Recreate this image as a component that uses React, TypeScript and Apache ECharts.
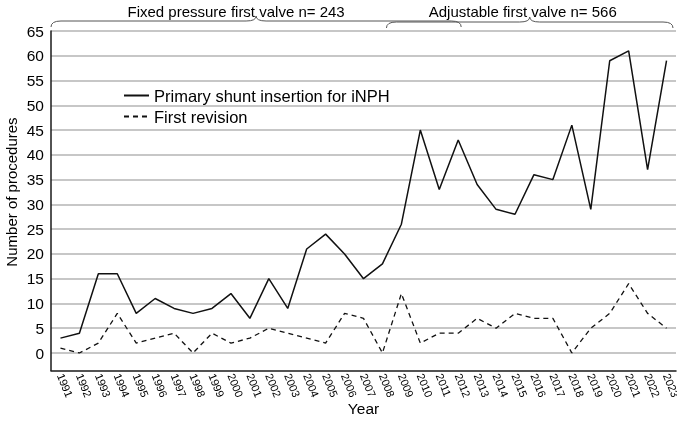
import React, { useEffect, useRef } from 'react';
import * as echarts from 'echarts';

const years = [
  '1991', '1992', '1993', '1994', '1995', '1996', '1997', '1998', '1999', '2000',
  '2001', '2002', '2003', '2004', '2005', '2006', '2007', '2008', '2009', '2010',
  '2011', '2012', '2013', '2014', '2015', '2016', '2017', '2018', '2019', '2020',
  '2021', '2022', '2023',
];

const primaryShunts = [
  3, 4, 16, 16, 8, 11, 9, 8, 9, 12,
  7, 15, 9, 21, 24, 20, 15, 18, 26, 45,
  33, 43, 34, 29, 28, 36, 35, 46, 29, 59,
  61, 37, 59,
];

const firstRevisions = [
  1, 0, 2, 8, 2, 3, 4, 0, 4, 2,
  3, 5, 4, 3, 2, 8, 7, 0, 12, 2,
  4, 4, 7, 5, 8, 7, 7, 0, 5, 8,
  14, 8, 5,
];

const seriesNames = ['Primary shunt insertion for iNPH', 'First revision'];

// Valve eras shown as braces above the plot
const periodLabels = ['Fixed pressure first valve n= 243', 'Adjustable first valve n= 566'];
const periodStart = ['1991', '2008'];
const periodEnd = ['2012', '2023'];

const FONT = '"Liberation Sans", Arial, Helvetica, sans-serif';

export default function App() {
  const ref = useRef<HTMLDivElement>(null);

  useEffect(() => {
    const chart = echarts.init(ref.current!, null, { renderer: 'svg' });
    chart.setOption({
      animation: false,
      textStyle: { fontFamily: FONT },
      grid: [
        { left: 51, right: 1, top: 31, bottom: 72, outerBoundsMode: 'none', containLabel: false },
        { left: 51, right: 1, top: 31, bottom: 54.5, outerBoundsMode: 'none', containLabel: false },
      ],
      legend: {
        orient: 'vertical',
        left: 118,
        top: 82,
        itemWidth: 25,
        itemHeight: 14,
        itemGap: 4,
        data: seriesNames,
        itemStyle: { opacity: 0 },
        textStyle: { fontSize: 16.5, color: '#000', fontFamily: FONT },
      },
      xAxis: [
        {
          type: 'category',
          gridIndex: 0,
          data: years,
          boundaryGap: true,
          axisLine: { show: false },
          axisTick: { show: false },
          axisLabel: {
            rotate: -68,
            margin: 21,
            fontSize: 11,
            color: '#000',
            interval: 0,
            padding: [7, 0, 0, 0],
          },
          name: 'Year',
          nameLocation: 'middle',
          nameGap: 47,
          nameMoveOverlap: false,
          nameTextStyle: { fontSize: 15.5, color: '#000' },
        },
        {
          type: 'category',
          gridIndex: 1,
          data: years,
          axisLine: { lineStyle: { color: '#1a1a1a', width: 1.5 } },
          axisTick: { show: false },
          axisLabel: { show: false },
        },
      ],
      yAxis: [
        {
          type: 'value',
          gridIndex: 0,
          min: 0,
          max: 65,
          interval: 5,
          axisLine: { show: false },
          axisTick: { show: false },
          axisLabel: { fontSize: 15.5, color: '#000', margin: 7 },
          splitLine: { lineStyle: { color: '#b4b4b4', width: 1.5 } },
          name: 'Number of procedures',
          nameLocation: 'middle',
          nameGap: 32,
          nameMoveOverlap: false,
          nameTextStyle: { fontSize: 15, color: '#000' },
        },
        {
          type: 'value',
          gridIndex: 1,
          min: 0,
          max: 1,
          axisLine: { show: true, lineStyle: { color: '#1a1a1a', width: 1.5 } },
          axisTick: { show: false },
          axisLabel: { show: false },
          splitLine: { show: false },
        },
      ],
      series: [
        {
          name: seriesNames[0],
          type: 'line',
          xAxisIndex: 0,
          yAxisIndex: 0,
          data: primaryShunts,
          symbol: 'none',
          lineStyle: { color: '#111', width: 1.5 },
          itemStyle: { color: '#111' },
        },
        {
          name: seriesNames[1],
          type: 'line',
          xAxisIndex: 0,
          yAxisIndex: 0,
          data: firstRevisions,
          symbol: 'none',
          lineStyle: { color: '#111', width: 1.3, type: [5, 4] },
          itemStyle: { color: '#111' },
        },
      ],
    });

    // Braces spanning each valve era, placed from the category axis
    const px = (y: string) => chart.convertToPixel({ xAxisIndex: 0 }, y) as number;
    const band = px(years[1]) - px(years[0]);
    const spans = [
      { x1: px(periodStart[0]) - band / 2, x2: px(periodEnd[0]) + 3, body: 21, shift: -20 },
      { x1: px(periodStart[1]) + 4, x2: px(periodEnd[1]) + band / 2 - 3, body: 22, shift: -7 },
    ];
    const stroke = { stroke: '#555', lineWidth: 1, fill: 'none' };
    const graphic: any[] = [];
    spans.forEach((s, i) => {
      const xm = (s.x1 + s.x2) / 2;
      const r = 10;
      const yEnd = s.body + 6;
      const yTip = s.body - 5;
      graphic.push(
        { type: 'bezierCurve', shape: { x1: s.x1, y1: yEnd, x2: s.x1 + r, y2: s.body, cpx1: s.x1, cpy1: s.body }, style: stroke },
        { type: 'line', shape: { x1: s.x1 + r, y1: s.body, x2: xm - r, y2: s.body }, style: stroke },
        { type: 'bezierCurve', shape: { x1: xm - r, y1: s.body, x2: xm, y2: yTip, cpx1: xm, cpy1: s.body }, style: stroke },
        { type: 'bezierCurve', shape: { x1: xm, y1: yTip, x2: xm + r, y2: s.body, cpx1: xm, cpy1: s.body }, style: stroke },
        { type: 'line', shape: { x1: xm + r, y1: s.body, x2: s.x2 - r, y2: s.body }, style: stroke },
        { type: 'bezierCurve', shape: { x1: s.x2 - r, y1: s.body, x2: s.x2, y2: yEnd, cpx1: s.x2, cpy1: s.body }, style: stroke },
        {
          type: 'text',
          x: xm + s.shift,
          y: 11,
          style: {
            text: periodLabels[i],
            fontSize: 15,
            fontFamily: FONT,
            fill: '#000',
            textAlign: 'center',
            textVerticalAlign: 'middle',
          },
        },
      );
    });
    chart.setOption({ graphic });

    return () => chart.dispose();
  }, []);

  return (
    <div
      ref={ref}
      style={{ position: 'fixed', left: 0, top: 0, width: 677, height: 425 }}
    />
  );
}
